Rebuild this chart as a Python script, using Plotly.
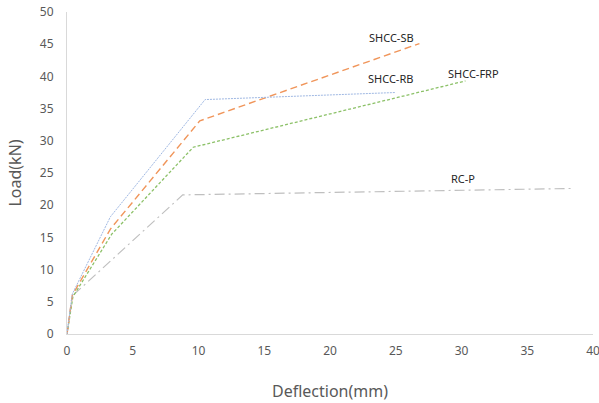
import plotly.graph_objects as go

rb_x = [0, 0.4, 3.3, 10.5, 25.0]
rb_y = [0, 6.2, 18.2, 36.4, 37.5]

sb_x = [0, 0.4, 3.3, 10.1, 26.8]
sb_y = [0, 6.0, 16.3, 33.1, 45.1]

frp_x = [0, 0.45, 3.4, 9.6, 30.3]
frp_y = [0, 5.8, 15.5, 29.0, 39.3]

rcp_x = [0, 0.4, 8.8, 38.4]
rcp_y = [0, 5.9, 21.6, 22.6]

labels = ["SHCC-SB", "SHCC-RB", "SHCC-FRP", "RC-P"]
label_x = [24.7, 24.6, 30.9, 30.1]
label_y = [46.1, 39.6, 40.5, 24.1]

x_ticks = [0, 5, 10, 15, 20, 25, 30, 35, 40]
y_ticks = [0, 5, 10, 15, 20, 25, 30, 35, 40, 45, 50]

fig = go.Figure()
fig.add_trace(go.Scatter(x=rcp_x, y=rcp_y, mode="lines",
                         line=dict(color="#bfbfbf", width=1.2, dash="10px,4px,2px,4px")))
fig.add_trace(go.Scatter(x=frp_x, y=frp_y, mode="lines",
                         line=dict(color="#8cc168", width=1.3, dash="3px,2px")))
fig.add_trace(go.Scatter(x=sb_x, y=sb_y, mode="lines",
                         line=dict(color="#f0955a", width=1.4, dash="7px,4px")))
fig.add_trace(go.Scatter(x=rb_x, y=rb_y, mode="lines",
                         line=dict(color="#9fb8e3", width=1, dash="2px,1px")))

for t, x, y in zip(labels, label_x, label_y):
    fig.add_annotation(x=x, y=y, text=t, showarrow=False,
                       font=dict(size=11, color="#262626", family="Noto Sans"))

fig.update_layout(
    width=599, height=403,
    margin=dict(l=67, r=6, t=12, b=69),
    plot_bgcolor="white", paper_bgcolor="white",
    showlegend=False,
    font=dict(family="Noto Sans", color="#595959"),
)
fig.update_xaxes(range=[0, 40], tickvals=x_ticks, showgrid=False, zeroline=False,
                 showline=True, linecolor="#d9d9d9", linewidth=1,
                 ticks="", tickfont=dict(size=12, color="#595959"),
                 ticklabelstandoff=6, ticklabeloverflow="allow", automargin=False,
                 title=dict(text="Deflection(mm)", font=dict(size=16, color="#595959"), standoff=27))
fig.update_yaxes(range=[0, 50], tickvals=y_ticks, showgrid=False, zeroline=False,
                 showline=True, linecolor="#d9d9d9", linewidth=1,
                 ticks="", tickfont=dict(size=12, color="#595959"),
                 ticklabelstandoff=10, automargin=False,
                 title=dict(text="Load(kN)", font=dict(size=16, color="#595959"), standoff=14))

fig.write_html("out.html")
